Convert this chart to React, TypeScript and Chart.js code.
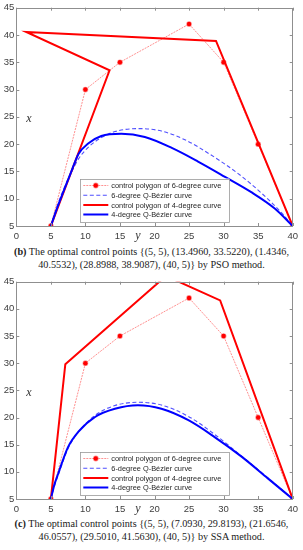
import React, { useEffect, useRef } from "react";
import { Chart, registerables } from "chart.js";

Chart.register(...registerables);

// ---- data ----
const xTicks = [0, 5, 10, 15, 20, 25, 30, 35, 40];
const yTicks = [5, 10, 15, 20, 25, 30, 35, 40, 45];

const legendLabels = [
  "control polygon of 6-degree curve",
  "6-degree Q-Bézier curve",
  "control polygon of 4-degree curve",
  "4-degree Q-Bézier curve",
];

const poly6X = [5, 10, 15, 25, 30, 35, 40];
const poly6Y = [5, 30, 35, 42, 35, 20, 5];

// (b) PSO
const psoPoly4X = [5, 13.496, 1.4346, 28.8988, 40];
const psoPoly4Y = [5, 33.522, 40.5532, 38.9087, 5];
const psoCurve6X = [5, 6, 7, 8, 9, 10.4, 12.3, 14.3, 17.6, 21, 24.4, 28.2, 32.1, 35.5, 38.4, 40];
const psoCurve6Y = [5, 9.0, 12.2, 14.9, 17.3, 19.4, 21.2, 22.3, 22.85, 22.4, 20.8, 18.0, 14.6, 11.0, 7.4, 5];
const psoCurve4X = [5, 6, 7, 8, 9, 10.4, 12.3, 15.2, 18.6, 22.5, 26.3, 30.2, 34, 37.4, 40];
const psoCurve4Y = [5, 8.6, 11.9, 15.1, 18.2, 20.1, 21.5, 21.9, 21.3, 19.3, 16.8, 14.0, 11.2, 8.2, 5];

// (c) SSA
const ssaPoly4X = [5, 7.093, 21.6546, 29.501, 40];
const ssaPoly4Y = [5, 29.8193, 46.0557, 41.563, 5];
const ssaCurve6X = [5, 5.5, 6.07, 7.5, 8.96, 11.4, 14.27, 17.6, 21, 24.9, 28.7, 32.6, 36.4, 40];
const ssaCurve6Y = [5, 7.3, 9.4, 14.3, 17.3, 20.4, 22.2, 22.8, 22.3, 20.2, 16.9, 12.9, 8.9, 5];
const ssaCurve4X = [5, 5.5, 6.07, 7.5, 8.96, 11.4, 14.27, 17.6, 21, 24.9, 28.7, 32.6, 36.4, 40];
const ssaCurve4Y = [5, 7.6, 9.7, 14.6, 17.35, 20.1, 21.6, 22.25, 21.6, 19.5, 16.4, 12.8, 8.8, 5];

const zip = (xs: number[], ys: number[]) => xs.map((x, i) => ({ x, y: ys[i] }));

const RED_LIGHT = "rgba(255,50,50,0.6)";
const RED = "#ff0000";
const BLUE = "#0000ff";
const BLUE_DASH = "rgba(60,60,255,0.9)";

function makeDatasets(p4x: number[], p4y: number[], c6x: number[], c6y: number[], c4x: number[], c4y: number[]) {
  return [
    {
      label: legendLabels[0],
      data: zip(poly6X, poly6Y),
      showLine: true,
      borderColor: RED_LIGHT,
      borderWidth: 0.9,
      borderDash: [2, 1],
      pointRadius: 2.2,
      pointBackgroundColor: RED,
      pointBorderColor: "rgba(255,0,0,0.4)",
      pointBorderWidth: 1.4,
      order: 4,
    },
    {
      label: legendLabels[1],
      data: zip(c6x, c6y),
      showLine: true,
      borderColor: BLUE_DASH,
      borderWidth: 1.1,
      borderDash: [4, 2.5],
      pointRadius: 0,
      cubicInterpolationMode: "monotone",
      order: 3,
    },
    {
      label: legendLabels[2],
      data: zip(p4x, p4y),
      showLine: true,
      borderColor: RED,
      borderWidth: 2,
      pointRadius: 0,
      order: 2,
    },
    {
      label: legendLabels[3],
      data: zip(c4x, c4y),
      showLine: true,
      borderColor: BLUE,
      borderWidth: 2,
      pointRadius: 0,
      cubicInterpolationMode: "monotone",
      order: 1,
    },
  ];
}

const decorPlugin = {
  id: "matlabDecor",
  afterDatasetsDraw(chart: any) {
    const { ctx, chartArea: a, scales } = chart;
    ctx.save();
    // box
    ctx.strokeStyle = "#8f8f8f";
    ctx.lineWidth = 1;
    ctx.strokeRect(Math.round(a.left) + 0.5, Math.round(a.top) + 0.5, Math.round(a.right - a.left), Math.round(a.bottom - a.top));
    // inward ticks
    const tl = 3;
    ctx.beginPath();
    scales.x.ticks.forEach((t: any) => {
      const px = Math.round(scales.x.getPixelForValue(t.value)) + 0.5;
      ctx.moveTo(px, a.bottom);
      ctx.lineTo(px, a.bottom - tl);
      ctx.moveTo(px, a.top);
      ctx.lineTo(px, a.top + tl);
    });
    scales.y.ticks.forEach((t: any) => {
      const py = Math.round(scales.y.getPixelForValue(t.value)) + 0.5;
      ctx.moveTo(a.left, py);
      ctx.lineTo(a.left + tl, py);
      ctx.moveTo(a.right, py);
      ctx.lineTo(a.right - tl, py);
    });
    ctx.stroke();

    // axis labels
    ctx.fillStyle = "#333";
    ctx.font = "italic 12px 'Liberation Serif'";
    ctx.textAlign = "center";
    ctx.textBaseline = "middle";
    ctx.fillText("x", a.left + 12.5, a.top + 111);
    ctx.fillText("y", 138, a.bottom + 10);

    // legend
    const bx = a.left + 64;
    const bw = 149;
    const bh = 43;
    const by = a.bottom - 4.5 - bh;
    ctx.fillStyle = "#fff";
    ctx.fillRect(bx, by, bw, bh);
    ctx.strokeStyle = "#9a9a9a";
    ctx.lineWidth = 0.8;
    ctx.strokeRect(Math.round(bx) + 0.5, Math.round(by) + 0.5, bw, bh);
    const rows = [7, 16.7, 26.5, 36];
    ctx.font = "7.4px 'Liberation Sans'";
    ctx.textAlign = "left";
    chart.data.datasets.forEach((ds: any, i: number) => {
      const ry = by + rows[i];
      ctx.save();
      ctx.strokeStyle = ds.borderColor;
      ctx.lineWidth = ds.borderWidth;
      ctx.setLineDash(ds.borderDash || []);
      ctx.beginPath();
      ctx.moveTo(bx + 3, ry);
      ctx.lineTo(bx + 28, ry);
      ctx.stroke();
      ctx.setLineDash([]);
      if (ds.pointRadius > 0) {
        ctx.beginPath();
        ctx.arc(bx + 15.5, ry, ds.pointRadius, 0, Math.PI * 2);
        ctx.fillStyle = ds.pointBackgroundColor;
        ctx.fill();
        ctx.lineWidth = ds.pointBorderWidth;
        ctx.strokeStyle = ds.pointBorderColor;
        ctx.stroke();
      }
      ctx.restore();
      ctx.fillStyle = "#262626";
      ctx.fillText(ds.label, bx + 31, ry + 0.5);
    });
    ctx.restore();
  },
};

function Panel({ top, height, datasets }: { top: number; height: number; datasets: any[] }) {
  const ref = useRef<HTMLCanvasElement | null>(null);
  useEffect(() => {
    if (!ref.current) return;
    const tickFont = { family: "'Liberation Sans'", size: 9.5 };
    const chart = new Chart(ref.current, {
      type: "scatter",
      data: { datasets },
      options: {
        animation: false,
        responsive: false,
        maintainAspectRatio: false,
        layout: { padding: { top: 7, right: 10, left: 0, bottom: 0 } },
        plugins: { legend: { display: false }, tooltip: { enabled: false } },
        scales: {
          x: {
            type: "linear",
            min: xTicks[0],
            max: xTicks[xTicks.length - 1],
            afterBuildTicks: (s: any) => {
              s.ticks = xTicks.map((v) => ({ value: v }));
            },
            ticks: { font: tickFont, color: "#404040", padding: 5, maxRotation: 0, autoSkip: false },
            grid: { display: false, drawTicks: false },
            border: { display: false },
            afterFit: (s: any) => {
              s.height = 17;
            },
          },
          y: {
            type: "linear",
            min: yTicks[0],
            max: yTicks[yTicks.length - 1],
            afterBuildTicks: (s: any) => {
              s.ticks = yTicks.map((v) => ({ value: v }));
            },
            ticks: { font: tickFont, color: "#404040", padding: 2, autoSkip: false },
            grid: { display: false, drawTicks: false },
            border: { display: false },
            afterFit: (s: any) => {
              s.width = 16.3;
            },
          },
        },
      } as any,
      plugins: [decorPlugin],
    });
    return () => chart.destroy();
  }, []);
  return (
    <canvas
      ref={ref}
      width={303}
      height={height}
      style={{ position: "absolute", left: 0, top, width: 303, height }}
    />
  );
}

const captionStyle: React.CSSProperties = {
  position: "absolute",
  left: 0,
  width: 303,
  textAlign: "center",
  fontFamily: "'Liberation Serif', serif",
  fontSize: 10.2,
  lineHeight: "13px",
  color: "#1a1a1a",
  whiteSpace: "nowrap",
};

export default function App() {
  const dsB = makeDatasets(psoPoly4X, psoPoly4Y, psoCurve6X, psoCurve6Y, psoCurve4X, psoCurve4Y);
  const dsC = makeDatasets(ssaPoly4X, ssaPoly4Y, ssaCurve6X, ssaCurve6Y, ssaCurve4X, ssaCurve4Y);
  return (
    <div style={{ position: "absolute", left: 0, top: 0, width: 303, height: 550, background: "#fff" }}>
      <Panel top={0} height={243} datasets={dsB} />
      <div style={{ ...captionStyle, top: 244.5 }}>
        <b>(b)</b> The optimal control points {"{"}(5, 5), (13.4960, 33.5220), (1.4346,
        <br />
        40.5532), (28.8988, 38.9087), (40, 5){"}"} by PSO method.
      </div>
      <Panel top={274} height={242} datasets={dsC} />
      <div style={{ ...captionStyle, top: 516.5 }}>
        <b>(c)</b> The optimal control points {"{"}(5, 5), (7.0930, 29.8193), (21.6546,
        <br />
        46.0557), (29.5010, 41.5630), (40, 5){"}"} by SSA method.
      </div>
    </div>
  );
}
